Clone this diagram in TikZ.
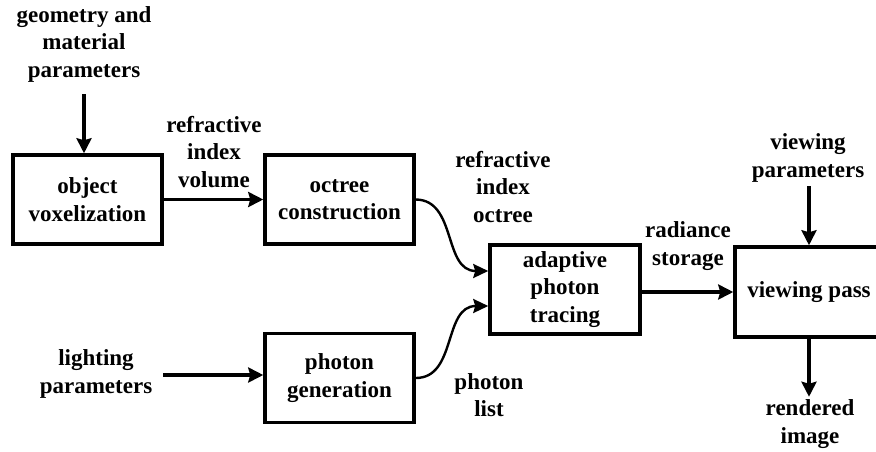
\documentclass[tikz,border=0pt]{standalone}
\usepackage{fontspec}
\setmainfont{Liberation Serif}
\usetikzlibrary{arrows.meta}
\begin{document}
\begin{tikzpicture}[x=1pt,y=-1pt,
  every node/.style={font=\fontsize{23}{27.5}\selectfont\bfseries, align=center, inner sep=0pt},
  stepbox/.style={draw, line width=3.5pt, minimum width=149pt, minimum height=89pt},
  flow/.style={line width=3.2pt, -{Stealth[length=15pt,width=15pt,inset=2pt]}},
  curvy/.style={line width=2.4pt, -{Stealth[length=15pt,width=14pt,inset=2pt]}}]
\useasboundingbox (0,0) rectangle (876,451);
% boxes
\node[stepbox] (vox) at (87.5,199.5) {object\\voxelization};
\node[stepbox] (oct) at (339.5,199.5) {octree\\construction};
\node[stepbox] (gen) at (339.5,378) {photon\\generation};
\node[stepbox, minimum width=150pt] (apt) at (565,289.5) {adaptive\\photon\\tracing};
\begin{scope}
\clip (0,0) rectangle (876,451);
\node[stepbox, minimum width=148pt, minimum height=90pt] (view) at (809,292) {viewing pass};
\end{scope}
% labels
\node (geom) at (84,44) {geometry and\\material\\parameters};
\node (riv) at (214,152) {refractive\\index\\volume};
\node (rio) at (503,187) {refractive\\index\\octree};
\node (light) at (96,374) {lighting\\parameters};
\node (plist) at (489,395) {photon\\list};
\node (rad) at (688,246) {radiance\\storage};
\node (vpar) at (808,158) {viewing\\parameters};
\node (rimg) at (810,424) {rendered\\image};
% coordinates
\coordinate (g0) at (84,94);
\coordinate (vp0) at (809,186);
\coordinate (l0) at (163,375);
% arrows
\draw[flow] (g0) -- (vox.north -| g0);
\draw[flow] (vox.east) -- (oct.west);
\draw[flow] (l0) -- (gen.west |- l0);
\draw[flow] (apt.east |- view.west) -- (view.west);
\draw[flow] (vp0) -- (view.north -| vp0);
\draw[flow] (view.south -| vp0) -- ++(0,58);
\draw[curvy] (oct.east) .. controls (457,200) and (443,271) .. (apt.west |- 0,271);
\draw[curvy] (gen.east) .. controls (457,378) and (443,306) .. (apt.west |- 0,306);
\end{tikzpicture}
\end{document}
